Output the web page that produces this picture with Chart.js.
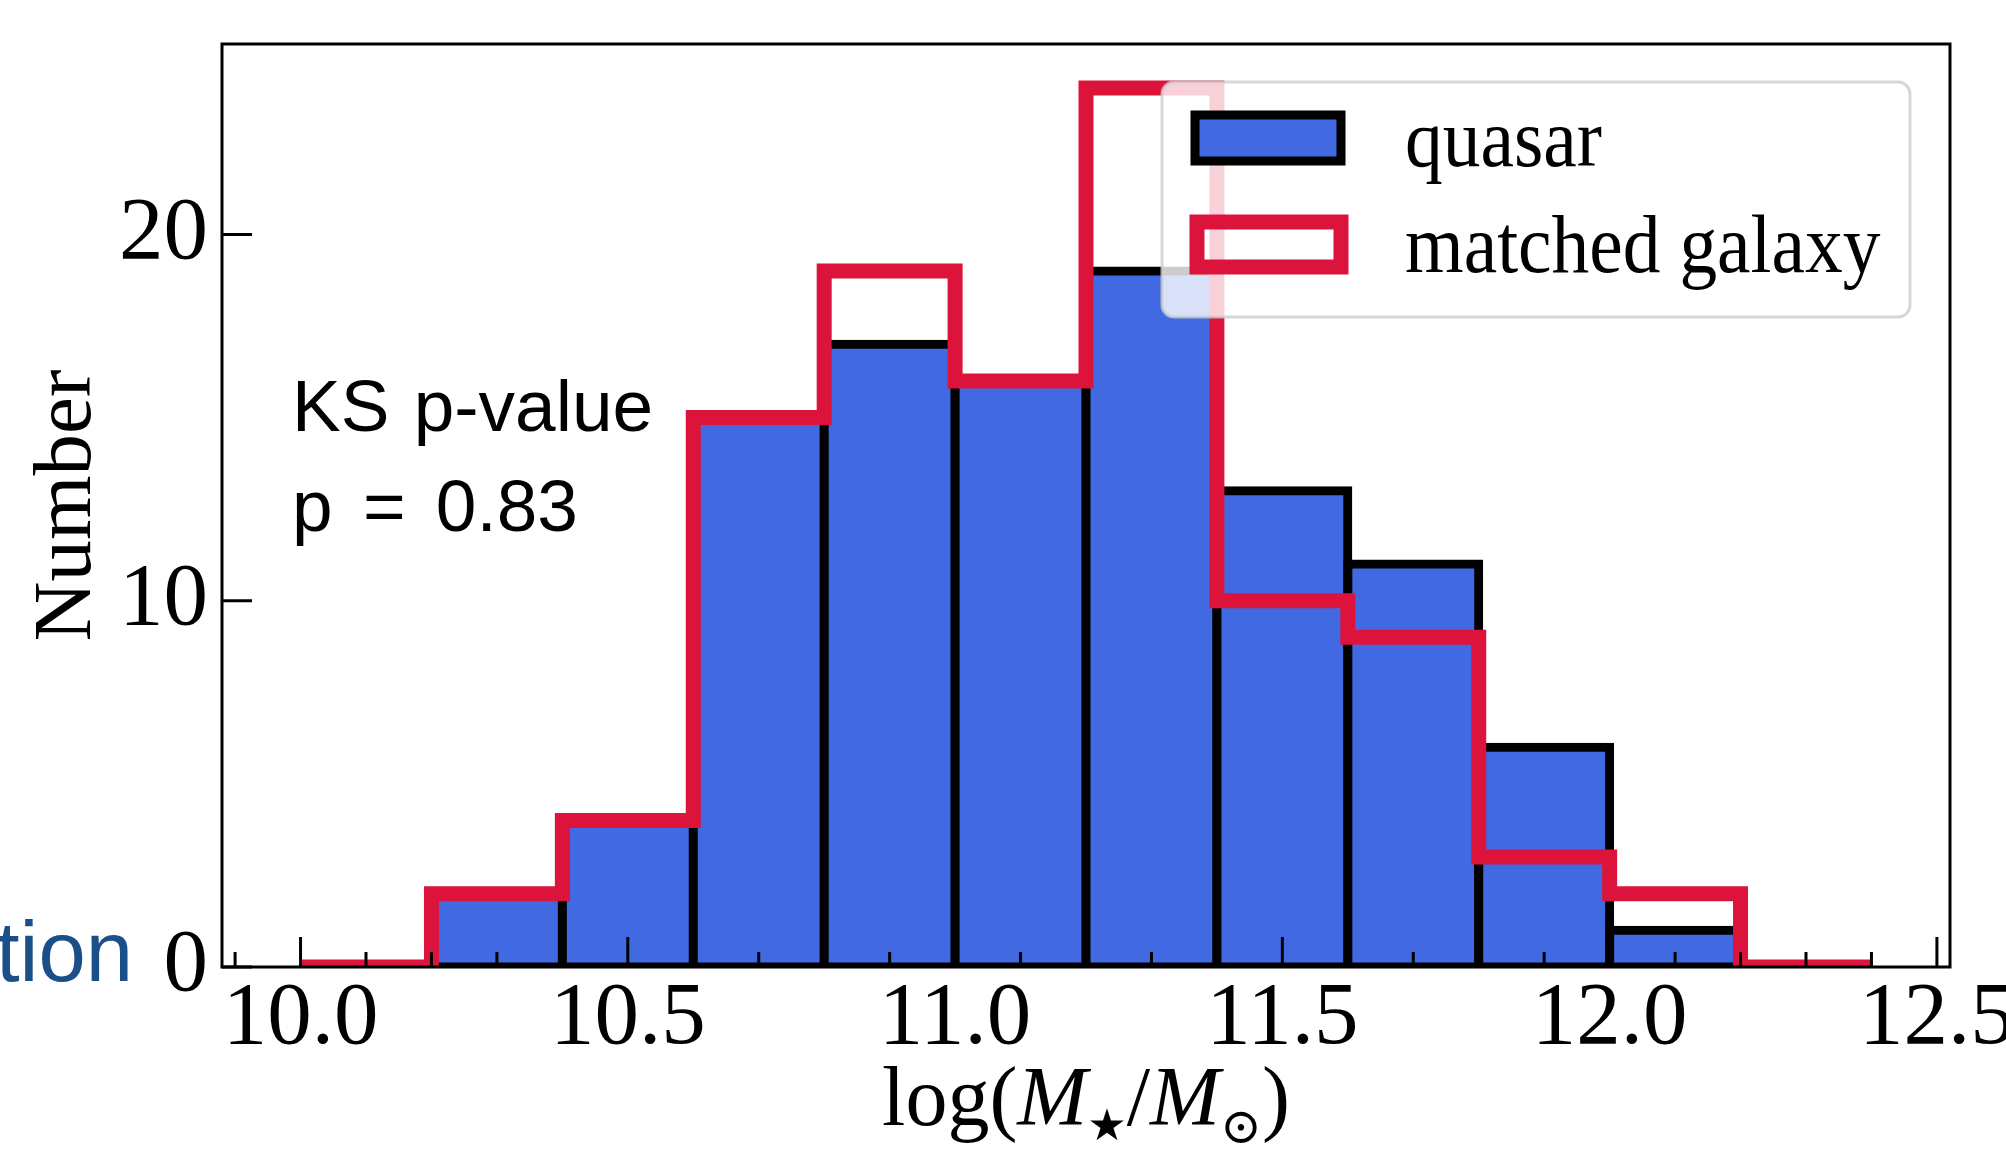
<!DOCTYPE html>
<html>
<head>
<meta charset="utf-8">
<script src="https://cdn.jsdelivr.net/npm/chart.js@4.4.1/dist/chart.umd.min.js"></script>
<style>
  html, body { margin: 0; padding: 0; background: #fff; }
  canvas { display: block; }
</style>
</head>
<body>
<canvas id="hist" width="2006" height="1152" style="width:2006px;height:1152px"></canvas>
<script>
// histogram bins of log(M*/Msun), 0.2 dex wide
const binEdges = [10.0, 10.2, 10.4, 10.6, 10.8, 11.0, 11.2, 11.4, 11.6, 11.8, 12.0, 12.2, 12.4];
const quasarCounts = [0, 2, 4, 15, 17, 16, 19, 13, 11, 6, 1, 0];
const galaxyCounts = [0, 2, 4, 15, 19, 16, 24, 10, 9, 3, 2, 0];
const seriesLabels = ['quasar', 'matched galaxy'];

// axes
const xMajorTicks = [10.0, 10.5, 11.0, 11.5, 12.0, 12.5];
const xMinorTicks = [9.9, 10.1, 10.2, 10.3, 10.4, 10.6, 10.7, 10.8, 10.9, 11.1, 11.2, 11.3, 11.4,
  11.6, 11.7, 11.8, 11.9, 12.1, 12.2, 12.3, 12.4];
const yTicks = [0, 10, 20];
const ksLines = ['KS p-value', 'p = 0.83'];

const BLUE = '#4169E1';
const RED = '#DC143C';
const SERIF = '"Liberation Serif", "Times New Roman", serif';
const SANS = '"Liberation Sans", Arial, sans-serif';

// bars sit on bin centres, empty bins are left out
const barData = quasarCounts.map((c, i) => ({
  x: (binEdges[i] + binEdges[i + 1]) / 2,
  y: c === 0 ? null : c
}));

// step outline like histtype='step'
const stepData = [{ x: binEdges[0], y: 0 }]
  .concat(galaxyCounts.map((c, i) => ({ x: binEdges[i], y: c })))
  .concat([{ x: binEdges[binEdges.length - 1], y: 0 }]);

function drawXLabel(ctx, cx, baseline) {
  const parts = [
    { t: 'log(', f: '84px ' + SERIF, dy: 0 },
    { t: 'M', f: 'italic 84px ' + SERIF, dy: 0 },
    { t: '\u2605', f: '44px "DejaVu Sans"', dy: 15 },
    { t: '/', f: '84px ' + SERIF, dy: 0 },
    { t: 'M', f: 'italic 84px ' + SERIF, dy: 0 },
    { t: '\u2299', f: '50px "DejaVu Serif"', dy: 18 },
    { t: ')', f: '84px ' + SERIF, dy: 0 }
  ];
  let total = 0;
  parts.forEach(p => { ctx.font = p.f; p.w = ctx.measureText(p.t).width; total += p.w; });
  let x = cx - total / 2;
  ctx.textAlign = 'left';
  ctx.textBaseline = 'alphabetic';
  ctx.fillStyle = '#000';
  parts.forEach(p => {
    ctx.font = p.f;
    ctx.fillText(p.t, x, baseline + p.dy);
    x += p.w;
  });
}

// legend labels are a bit narrower in the original typeface
function squeezedText(ctx, text, x, y, sx) {
  ctx.save();
  ctx.translate(x, y);
  ctx.scale(sx, 1);
  ctx.fillText(text, 0, 0);
  ctx.restore();
}

const axesDecor = {
  id: 'axesDecor',
  afterDatasetsDraw(chart) {
    const { ctx, chartArea: a, scales: { x, y } } = chart;
    ctx.save();

    // inward ticks
    ctx.strokeStyle = '#000';
    ctx.lineWidth = 3;
    ctx.beginPath();
    xMinorTicks.forEach(v => {
      const px = x.getPixelForValue(v);
      ctx.moveTo(px, a.bottom);
      ctx.lineTo(px, a.bottom - 15);
    });
    xMajorTicks.forEach(v => {
      const px = x.getPixelForValue(v);
      ctx.moveTo(px, a.bottom);
      ctx.lineTo(px, a.bottom - 30);
    });
    yTicks.forEach(v => {
      const py = y.getPixelForValue(v);
      ctx.moveTo(a.left, py);
      ctx.lineTo(a.left + 30, py);
    });
    ctx.stroke();

    // frame
    ctx.strokeRect(a.left, a.top, a.right - a.left, a.bottom - a.top);

    // KS annotation
    ctx.fillStyle = '#000';
    ctx.font = '73px ' + SANS;
    ctx.textAlign = 'left';
    ctx.textBaseline = 'alphabetic';
    ctx.wordSpacing = '4px';
    ctx.fillText(ksLines[0], a.left + 70, a.top + 387);
    ctx.wordSpacing = '10px';
    ctx.fillText(ksLines[1], a.left + 70, a.top + 487);
    ctx.wordSpacing = '0px';

    // legend
    const lx = 1162, ly = 82, lw = 748, lh = 235;
    ctx.beginPath();
    ctx.roundRect(lx, ly, lw, lh, 12);
    ctx.fillStyle = 'rgba(255,255,255,0.8)';
    ctx.fill();
    ctx.lineWidth = 3;
    ctx.strokeStyle = 'rgba(204,204,204,0.8)';
    ctx.stroke();

    const ds = chart.data.datasets;
    const bars = ds.find(d => d.type === 'bar');
    const step = ds.find(d => d.type === 'line');
    ctx.fillStyle = bars.backgroundColor;
    ctx.fillRect(1195, 115, 146, 46);
    ctx.lineWidth = bars.borderWidth;
    ctx.strokeStyle = bars.borderColor;
    ctx.strokeRect(1195, 115, 146, 46);
    ctx.lineWidth = step.borderWidth;
    ctx.strokeStyle = step.borderColor;
    ctx.strokeRect(1197, 222, 144, 45);

    ctx.fillStyle = '#000';
    ctx.font = '82px ' + SERIF;
    squeezedText(ctx, bars.label, 1405, 166, 0.92);
    squeezedText(ctx, step.label, 1405, 272, 0.92);

    // x axis label
    drawXLabel(ctx, (a.left + a.right) / 2, 1125);

    // clipped word from the neighbouring panel
    ctx.fillStyle = '#1b4f8a';
    ctx.font = '85px ' + SANS;
    ctx.textAlign = 'right';
    ctx.fillText('tion', 133, 981);

    ctx.restore();
  }
};

new Chart(document.getElementById('hist'), {
  type: 'bar',
  data: {
    datasets: [
      {
        type: 'line',
        label: seriesLabels[1],
        data: stepData,
        borderColor: RED,
        borderWidth: 15,
        stepped: true,
        pointRadius: 0,
        fill: false,
        borderJoinStyle: 'miter',
        borderCapStyle: 'butt',
        order: 0,
        clip: 0
      },
      {
        type: 'bar',
        label: seriesLabels[0],
        data: barData,
        backgroundColor: BLUE,
        borderColor: '#000000',
        borderWidth: 9,
        borderSkipped: false,
        inflateAmount: 4.5,
        barPercentage: 1,
        categoryPercentage: 1,
        order: 1,
        clip: 0
      }
    ]
  },
  options: {
    responsive: false,
    animation: false,
    events: [],
    layout: { padding: { left: 0, top: 44, right: 56, bottom: 0 } },
    plugins: { legend: { display: false }, tooltip: { enabled: false } },
    scales: {
      x: {
        type: 'linear',
        position: 'bottom',
        min: 9.88,
        max: 12.52,
        offset: false,
        grid: { display: false, drawTicks: false },
        border: { display: false },
        afterBuildTicks: s => { s.ticks = xMajorTicks.map(v => ({ value: v })); },
        afterFit: s => { s.height = 185; s.paddingLeft = 0; s.paddingRight = 0; },
        ticks: {
          autoSkip: false,
          maxRotation: 0,
          padding: 8,
          color: '#000',
          font: { family: SERIF, size: 89, lineHeight: 1 },
          callback: v => Number(v).toFixed(1)
        }
      },
      y: {
        type: 'linear',
        min: 0,
        max: 25.2,
        grid: { display: false, drawTicks: false },
        border: { display: false },
        afterBuildTicks: s => { s.ticks = yTicks.map(v => ({ value: v })); },
        afterFit: s => { s.width = 222; s.paddingTop = 0; s.paddingBottom = 0; },
        ticks: {
          padding: 14,
          color: '#000',
          font: { family: SERIF, size: 89, lineHeight: 1 },
          callback: v => String(v)
        },
        title: {
          display: true,
          text: 'Number',
          color: '#000',
          font: { family: SERIF, size: 83, lineHeight: 1.2 },
          padding: { top: 18, bottom: 0 }
        }
      }
    }
  },
  plugins: [axesDecor]
});
</script>
</body>
</html>
